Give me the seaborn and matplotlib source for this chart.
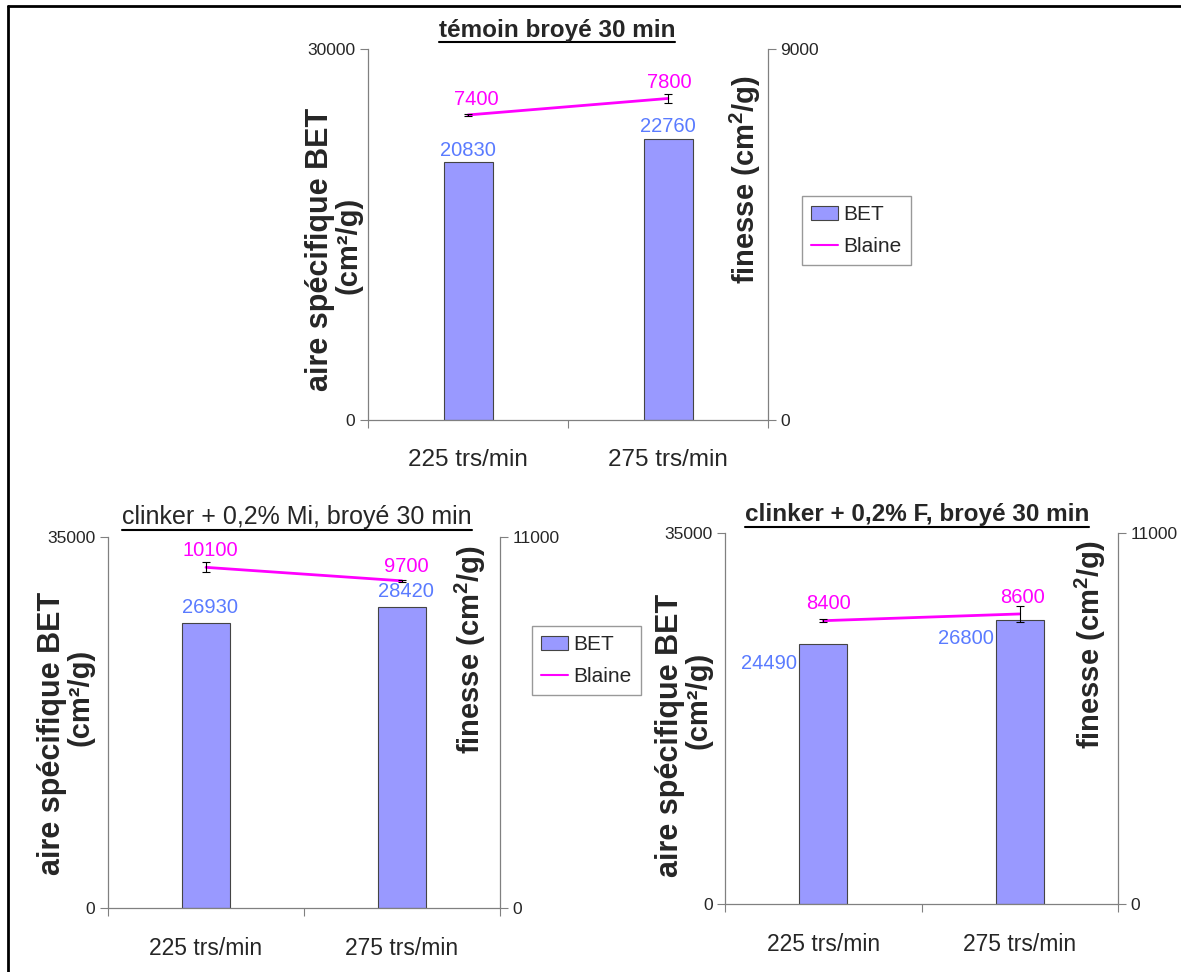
import matplotlib
matplotlib.use("Agg")
import matplotlib.pyplot as plt
import seaborn as sns
import pandas as pd
from matplotlib.lines import Line2D
from matplotlib.patches import Patch

# ── data ───────────────────────────────────────────────────────────────────
speeds = ["225 trs/min", "275 trs/min"]

temoin_bet = [20830, 22760]
temoin_blaine = [7400, 7800]
temoin_err = [20, 100]

mi_bet = [26930, 28420]
mi_blaine = [10100, 9700]
mi_err = [150, 25]

f_bet = [24490, 26800]
f_blaine = [8400, 8600]
f_err = [40, 250]

# ── style ──────────────────────────────────────────────────────────────────
sns.set_style("white")
plt.rcParams["font.family"] = ["Liberation Sans", "DejaVu Sans"]
plt.rcParams["mathtext.fontset"] = "custom"
plt.rcParams["mathtext.rm"] = "Liberation Sans"
plt.rcParams["mathtext.bf"] = "Liberation Sans:bold"

BAR = "#9999FF"
EDGE = "#444444"
MAG = "#FF00FF"
BLUE = "#5A7BFF"
GRAY = "#808080"

W, H = 1181, 972
fig = plt.figure(figsize=(W / 100, H / 100), dpi=100)


def fx(x):
    return x / W


def fy(y):
    return 1 - y / H


def panel(l, t, r, b, bet, blaine, err, ymax_l, ymax_r,
          bet_off, bl_off, xfs):
    ax = fig.add_axes([fx(l), fy(b), (r - l) / W, (b - t) / H])
    df = pd.DataFrame({"speed": speeds, "BET": bet})
    sns.barplot(data=df, x="speed", y="BET", color=BAR, saturation=1,
                width=0.245, edgecolor=EDGE, linewidth=0.8, ax=ax)
    ax.set_xlim(-0.5, 1.5)
    ax.set_ylim(0, ymax_l)
    ax.set_xlabel("")
    ax.set_ylabel("")
    ax.set_yticks([0, ymax_l])
    ax.tick_params(axis="y", length=6, width=0.8, color=GRAY,
                   labelsize=12.5, pad=3, left=True)
    ax.set_xticks([0, 1])
    ax.set_xticklabels(speeds)
    ax.set_xticks([-0.5, 0.5, 1.5], minor=True)
    ax.tick_params(axis="x", which="major", length=0, pad=21, labelsize=xfs)
    ax.tick_params(axis="x", which="minor", length=6, width=0.8,
                   color=GRAY, bottom=True)
    for s in ["top", "right"]:
        ax.spines[s].set_visible(False)
    for s in ["left", "bottom"]:
        ax.spines[s].set_color(GRAY)
        ax.spines[s].set_linewidth(0.9)

    ax2 = ax.twinx()
    sns.lineplot(x=[0, 1], y=blaine, color=MAG, lw=2, ax=ax2)
    ax2.errorbar([0, 1], blaine, yerr=err, fmt="none", ecolor="black",
                 elinewidth=0.8, capsize=3, capthick=0.8)
    ax2.set_ylim(0, ymax_r)
    ax2.set_yticks([0, ymax_r])
    ax2.set_ylabel("")
    ax2.tick_params(axis="y", length=6, width=0.8, color=GRAY,
                    labelsize=12.5, pad=3, right=True)
    for s in ["top", "left", "bottom"]:
        ax2.spines[s].set_visible(False)
    ax2.spines["right"].set_color(GRAY)
    ax2.spines["right"].set_linewidth(0.9)

    for i, v in enumerate(bet):
        ax.annotate(f"{v}", (i, v), xytext=bet_off, textcoords="offset pixels",
                    ha="center", va="center", color=BLUE, fontsize=14.5)
    for i, v in enumerate(blaine):
        ax2.annotate(f"{v}", (i, v), xytext=bl_off[i],
                     textcoords="offset pixels", ha="center", va="center",
                     color=MAG, fontsize=14.5)
    return ax, ax2


panel(368, 49, 768, 420, temoin_bet, temoin_blaine, temoin_err, 30000, 9000,
      (0, 12), [(8, 15), (1, 16)], 17.5)
panel(108, 537, 500, 908, mi_bet, mi_blaine, mi_err, 35000, 11000,
      (4, 15), [(4, 17), (4, 14)], 16.5)
panel(725, 533, 1118, 904, f_bet, f_blaine, f_err, 35000, 11000,
      (-54, -19), [(5, 17), (3, 16)], 16.5)

# ── axis titles ────────────────────────────────────────────────────────────
left_lab = [((320, 249), (349, 245)), ((52, 733), (80, 697)),
            ((670, 735), (698, 700))]
for (p1, p2) in left_lab:
    fig.text(fx(p1[0]), fy(p1[1]), "aire spécifique BET", rotation=90,
             ha="center", va="center", fontsize=22, fontweight="bold")
    fig.text(fx(p2[0]), fy(p2[1]), "(cm²/g)", rotation=90,
             ha="center", va="center", fontsize=21, fontweight="bold")

for (x, y) in [(745, 180), (470, 650), (1090, 645)]:
    fig.text(fx(x), fy(y), r"finesse (cm$^{\mathbf{2}}$/g)", rotation=90,
             ha="center", va="center", fontsize=21, fontweight="bold")

# ── titles (underlined) ────────────────────────────────────────────────────
titles = [
    fig.text(fx(557), fy(30), "témoin broyé 30 min", ha="center",
             va="center", fontsize=17.5, fontweight="bold"),
    fig.text(fx(297), fy(517), "clinker + 0,2% Mi, broyé 30 min",
             ha="center", va="center", fontsize=18),
    fig.text(fx(917), fy(515), "clinker + 0,2% F, broyé 30 min",
             ha="center", va="center", fontsize=17.5, fontweight="bold"),
]

# ── legends ────────────────────────────────────────────────────────────────
handles = [Patch(facecolor=BAR, edgecolor=EDGE, linewidth=0.8, label="BET"),
           Line2D([], [], color=MAG, lw=1.5, label="Blaine")]
for (x, y) in [(802, 196), (532, 626)]:
    leg = fig.legend(handles=handles, loc="upper left",
                     bbox_to_anchor=(fx(x), fy(y)), borderaxespad=0,
                     fancybox=False, frameon=True, fontsize=15,
                     handlelength=1.3, handletextpad=0.25, borderpad=0.45,
                     labelspacing=0.6)
    leg.get_frame().set_edgecolor(GRAY)
    leg.get_frame().set_linewidth(1.0)

# underline titles
fig.canvas.draw()
r = fig.canvas.get_renderer()
for t in titles:
    bb = t.get_window_extent(r)
    yy = (bb.y0 - 1) / H
    fig.add_artist(Line2D([bb.x0 / W, bb.x1 / W], [yy, yy],
                          color="black", lw=1.5, transform=fig.transFigure))

# figure frame (left and top edges)
fig.add_artist(Line2D([fx(8), fx(8)], [0, fy(6)], color="black", lw=2,
                      transform=fig.transFigure))
fig.add_artist(Line2D([fx(8), 1], [fy(6), fy(6)], color="black", lw=2,
                      transform=fig.transFigure))

fig.savefig("out.png", dpi=100)
